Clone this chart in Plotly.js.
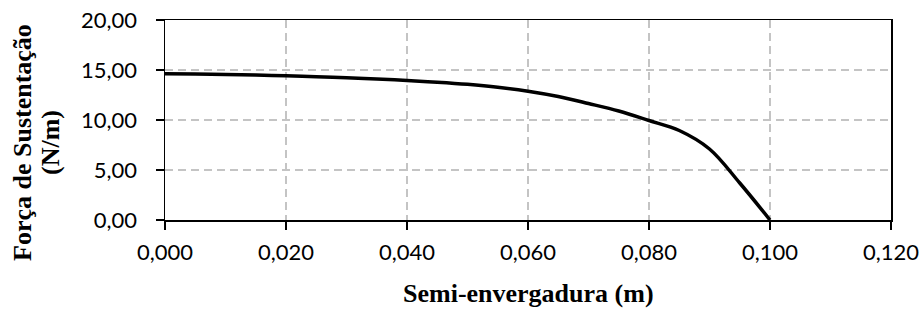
<!DOCTYPE html>
<html>
<head>
<meta charset="utf-8">
<script src="https://cdn.plot.ly/plotly-3.0.1.min.js"></script>
<style>html,body{margin:0;padding:0;background:#fff;}#chart{width:924px;height:309px;}</style>
</head>
<body>
<div id="chart"></div>
<script>
// Data
const spanX = [0, 0.005, 0.01, 0.015, 0.02, 0.025, 0.03, 0.035, 0.04, 0.045, 0.05, 0.055, 0.06, 0.065, 0.07, 0.075, 0.08, 0.085, 0.09, 0.095, 0.1];
const liftY = [14.62, 14.6, 14.55, 14.5, 14.42, 14.33, 14.22, 14.1, 13.95, 13.78, 13.57, 13.28, 12.88, 12.35, 11.65, 10.9, 9.95, 8.95, 7.1, 3.7, 0];
const xTitle = 'Semi-envergadura (m)';
const yTitleLine1 = 'Força de Sustentação';
const yTitleLine2 = '(N/m)';

const tickFont = {family: 'Lato, "Open Sans", sans-serif', size: 22, color: '#000'};
const titleFont = {family: '"Liberation Serif", "Times New Roman", serif', size: 26, color: '#000'};

const data = [{
  x: spanX, y: liftY, type: 'scatter', mode: 'lines',
  line: {color: '#000', width: 3.5, shape: 'spline', smoothing: 1.0},
  hoverinfo: 'none'
}];

const axisCommon = {
  showline: true, linecolor: '#000', linewidth: 1.5, mirror: true,
  ticks: 'outside', ticklen: 8, tickwidth: 1.5, tickcolor: '#000',
  showgrid: true, gridcolor: '#c4c4c4', gridwidth: 1.3, griddash: '8px,5px',
  zeroline: false, tickfont: tickFont, fixedrange: true
};

const layout = {
  width: 924, height: 309,
  margin: {l: 165, r: 33, t: 20, b: 89},
  paper_bgcolor: '#fff', plot_bgcolor: '#fff',
  separators: ',.',
  showlegend: false,
  xaxis: Object.assign({}, axisCommon, {range: [0, 0.12], dtick: 0.02, tick0: 0, tickformat: '.3f', ticklabelstandoff: 4}),
  yaxis: Object.assign({}, axisCommon, {range: [0, 20], dtick: 5, tick0: 0, tickformat: '.2f', ticklabelstandoff: 14}),
  annotations: [
    {text: '<b>' + xTitle + '</b>', xref: 'paper', yref: 'paper', x: 0.5, y: -0.365,
     xanchor: 'center', yanchor: 'middle', showarrow: false, font: titleFont},
    {text: '<b>' + yTitleLine1 + '</b>', xref: 'paper', yref: 'paper', x: (22 - 165) / 726, y: 0.385,
     xanchor: 'center', yanchor: 'middle', textangle: -90, showarrow: false, font: titleFont},
    {text: '<b>' + yTitleLine2 + '</b>', xref: 'paper', yref: 'paper', x: (50 - 165) / 726, y: 0.385,
     xanchor: 'center', yanchor: 'middle', textangle: -90, showarrow: false, font: titleFont}
  ]
};

Plotly.newPlot('chart', data, layout, {staticPlot: true, displayModeBar: false});
</script>
</body>
</html>
